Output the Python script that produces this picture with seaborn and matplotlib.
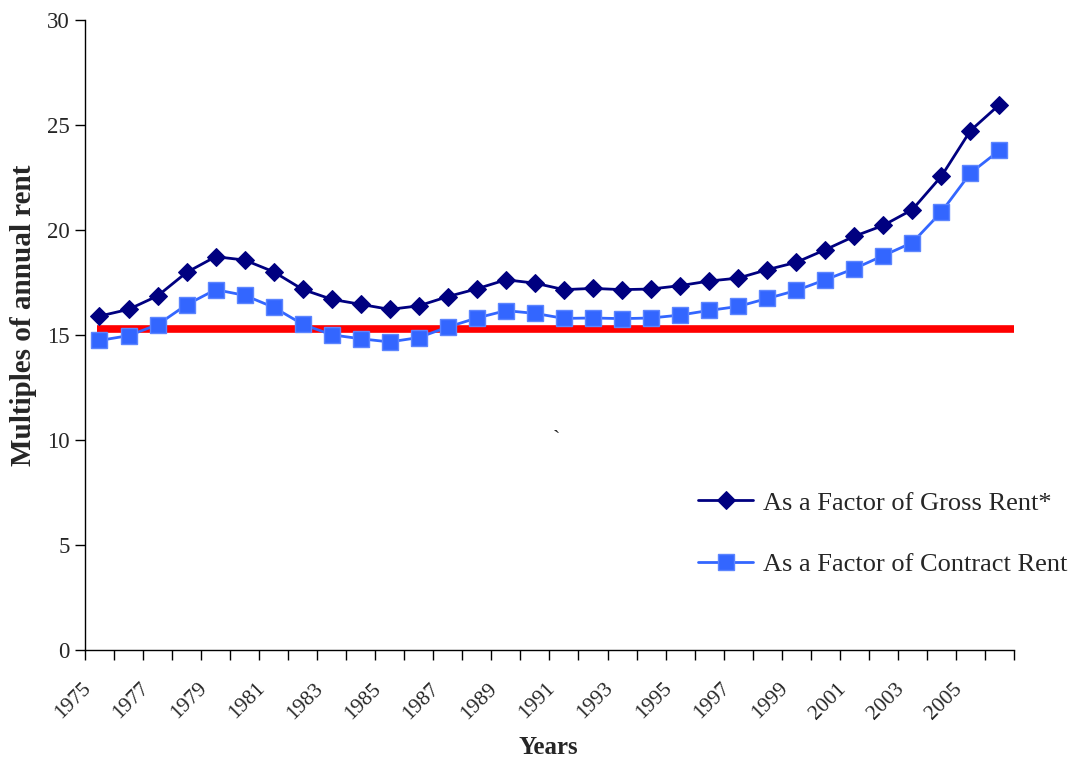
import numpy as np
import pandas as pd
import matplotlib
matplotlib.use("Agg")
import matplotlib.pyplot as plt
import matplotlib.transforms as mtransforms
import seaborn as sns

sns.set_theme(style="white")
plt.rcParams["font.family"] = ["Liberation Serif", "DejaVu Serif"]

years = list(range(1975, 2007))
gross_rent = [15.90, 16.22, 16.86, 17.98, 18.73, 18.57, 18.01, 17.17, 16.70, 16.46, 16.22,
              16.39, 16.83, 17.20, 17.63, 17.47, 17.16, 17.22, 17.16, 17.19, 17.35, 17.57,
              17.71, 18.11, 18.46, 19.06, 19.70, 20.22, 20.97, 22.56, 24.73, 25.97]
contract_rent = [14.74, 14.97, 15.49, 16.44, 17.16, 16.89, 16.32, 15.51, 15.01, 14.82, 14.67,
                 14.88, 15.38, 15.81, 16.16, 16.03, 15.79, 15.81, 15.78, 15.81, 15.95, 16.17,
                 16.36, 16.74, 17.12, 17.63, 18.16, 18.78, 19.40, 20.86, 22.71, 23.79]
reference_level = 15.3
y_ticks = [0, 5, 10, 15, 20, 25, 30]

df = pd.DataFrame({"idx": np.arange(len(years)), "Year": years,
                   "Gross": gross_rent, "Contract": contract_rent})

fig = plt.figure(figsize=(10.74, 7.57), dpi=100)
ax = fig.add_axes([0.0791, 0.1413, 0.8650, 0.8323])

ax.hlines(reference_level, -0.1, len(years) - 0.4, color="#FF0000", linewidth=5.5, zorder=1)

sns.lineplot(data=df, x="idx", y="Gross", ax=ax, color="#000080", linewidth=2,
             marker="D", markersize=9, markeredgecolor="#000080",
             label="As a Factor of Gross Rent*", zorder=3)
sns.lineplot(data=df, x="idx", y="Contract", ax=ax, color="#3366FF", linewidth=2,
             marker="s", markersize=11, markeredgecolor="#5C85FF", markeredgewidth=1,
             label="As a Factor of Contract Rent", zorder=2)

ax.set_xlim(-0.5, len(years) - 0.5)
ax.set_ylim(0, 30)
ax.set_yticks(y_ticks)
ax.set_yticklabels([str(t) for t in y_ticks], fontsize=16.5)

# tick marks on category boundaries, labels at every other category centre
ax.set_xticks(np.arange(-0.5, len(years), 1.0))
ax.set_xticklabels([])
ax.set_xticks(df["idx"][::2], minor=True)
ax.set_xticklabels([str(y) for y in df["Year"][::2]], minor=True, fontsize=15.5,
                   rotation=45, ha="right", va="top", rotation_mode="anchor")
ax.tick_params(axis="x", which="major", direction="out", length=7, width=1, color="black", bottom=True)
ax.tick_params(axis="x", which="minor", length=0, pad=21, bottom=True)
ax.tick_params(axis="y", direction="out", length=7, width=1, color="black", left=True, pad=4)
shift = mtransforms.ScaledTranslation(-0.18, 0, fig.dpi_scale_trans)
for lab in ax.get_xticklabels(minor=True):
    lab.set_transform(lab.get_transform() + shift)

for s in ["top", "right"]:
    ax.spines[s].set_visible(False)
for s in ["left", "bottom"]:
    ax.spines[s].set_color("black")
    ax.spines[s].set_linewidth(1)

ax.set_xlabel("Years", fontsize=18, fontweight="bold")
ax.xaxis.set_label_coords(0.499, -0.136)
ax.set_ylabel("Multiples of annual rent", fontsize=21, fontweight="bold")
ax.yaxis.set_label_coords(-0.052, 0.532)

ax.text(15.75, 10.0, "`", fontsize=16, ha="center", va="center")

ax.legend(loc="upper left", bbox_to_anchor=(0.649, 0.269), frameon=False, fontsize=19,
          handlelength=2.08, labelspacing=1.45, handletextpad=0.35, borderaxespad=0)

fig.savefig("out.png", dpi=100)
